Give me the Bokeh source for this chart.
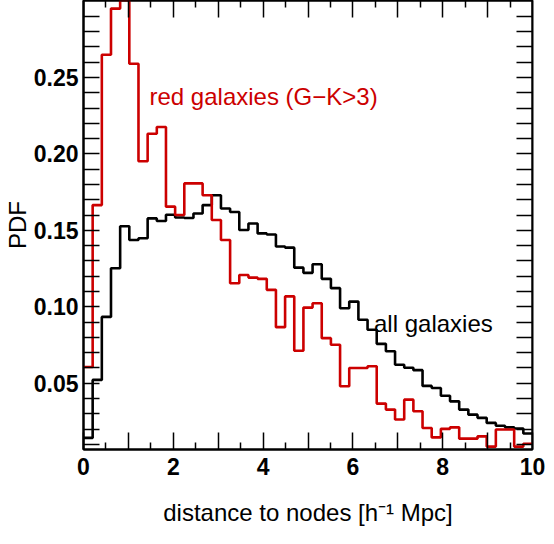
from bokeh.plotting import figure
from bokeh.models import FixedTicker, LinearAxis, Label, Range1d, PrintfTickFormatter
from bokeh.embed import file_html
from bokeh.resources import INLINE
import numpy as np

# histogram binning: 49 equal bins between 0 and 10 h^-1 Mpc
bin_lo = 0.0
bin_hi = 10.0
n_bins = 49

# PDF of all galaxies (black)
all_pdf = [0.0143, 0.0522, 0.0934, 0.1252, 0.1527, 0.1437, 0.1448, 0.1578, 0.1561, 0.1602,
           0.1584, 0.1581, 0.1610, 0.1665, 0.1730, 0.1643, 0.1620, 0.1502, 0.1545, 0.1480,
           0.1473, 0.1394, 0.1387, 0.1256, 0.1222, 0.1278, 0.1183, 0.1122, 0.0991, 0.1034,
           0.0915, 0.0850, 0.0758, 0.0709, 0.0621, 0.0602, 0.0586, 0.0483, 0.0469, 0.0418,
           0.0382, 0.0328, 0.0295, 0.0274, 0.0241, 0.0222, 0.0212, 0.0204, 0.0172]

# PDF of red galaxies (G-K>3)
red_pdf = [0.0606, 0.1665, 0.2648, 0.2950, 0.3005, 0.2589, 0.1952, 0.2132, 0.2176, 0.1655,
           0.1600, 0.1807, 0.1807, 0.1730, 0.1568, 0.1437, 0.1154, 0.1208, 0.1191, 0.1183,
           0.1111, 0.0867, 0.1068, 0.0713, 0.0995, 0.1023, 0.0795, 0.0752, 0.0481, 0.0600,
           0.0600, 0.0611, 0.0367, 0.0328, 0.0263, 0.0393, 0.0317, 0.0208, 0.0146, 0.0202,
           0.0212, 0.0138, 0.0138, 0.0153, 0.0086, 0.0198, 0.0198, 0.0086, 0.0105]

x_major = [0, 1, 2, 3, 4, 5, 6, 7, 8, 9, 10]
x_minor = [0.5, 1.5, 2.5, 3.5, 4.5, 5.5, 6.5, 7.5, 8.5, 9.5]
x_hidden = {1: "", 3: "", 5: "", 7: "", 9: ""}
y_major = [0.05, 0.10, 0.15, 0.20, 0.25]
y_minor = [round(0.01 * k, 2) for k in range(1, 31) if k % 5 != 0]

x_title = "distance to nodes [h\u207b\u00b9 Mpc]"
y_title = "PDF"
red_label = "red galaxies (G\u2212K>3)"
all_label = "all galaxies"

RED = "#cc0000"
FONT = "Liberation Sans"
X_LO, X_HI = 0.0, 10.0
Y_LO, Y_HI = 0.0067, 0.3003

edges = np.linspace(bin_lo, bin_hi, n_bins + 1)

p = figure(width=546, height=528, x_range=Range1d(X_LO, X_HI), y_range=Range1d(Y_LO, Y_HI),
           output_backend="svg", toolbar_location=None,
           min_border_left=78, min_border_right=14, min_border_top=0, min_border_bottom=78)
p.grid.visible = False
p.outline_line_color = "black"
p.outline_line_width = 2
p.background_fill_color = "white"
p.border_fill_color = "white"

p.step(edges, all_pdf + [all_pdf[-1]], mode="after", line_color="black", line_width=2.6)
p.step(edges, red_pdf + [red_pdf[-1]], mode="after", line_color=RED, line_width=2.6)


def style_x(ax, labels=True):
    ax.ticker = FixedTicker(ticks=x_major, minor_ticks=x_minor)
    ax.major_tick_in = 17
    ax.major_tick_out = 0
    ax.minor_tick_in = 7
    ax.minor_tick_out = 0
    ax.major_tick_line_width = 1.5
    ax.minor_tick_line_width = 1.5
    ax.axis_line_width = 2
    if labels:
        ax.major_label_overrides = x_hidden
        ax.major_label_text_font = FONT
        ax.major_label_text_font_style = "bold"
        ax.major_label_text_font_size = "23px"
        ax.major_label_text_color = "black"
        ax.major_label_standoff = 8
    else:
        ax.major_label_text_color = None
        ax.major_label_text_font_size = "0px"
        ax.major_label_standoff = 0


def style_y(ax, labels=True):
    ax.ticker = FixedTicker(ticks=y_major, minor_ticks=y_minor)
    ax.major_tick_in = 16
    ax.major_tick_out = 0
    ax.minor_tick_in = 16
    ax.minor_tick_out = 0
    ax.major_tick_line_width = 1.5
    ax.minor_tick_line_width = 1.5
    ax.axis_line_width = 2
    if labels:
        ax.formatter = PrintfTickFormatter(format="%.2f")
        ax.major_label_text_font = FONT
        ax.major_label_text_font_style = "bold"
        ax.major_label_text_font_size = "23px"
        ax.major_label_text_color = "black"
        ax.major_label_standoff = 5
    else:
        ax.major_label_text_color = None
        ax.major_label_text_font_size = "0px"
        ax.major_label_standoff = 0


style_x(p.xaxis[0])
style_y(p.yaxis[0])
p.xaxis[0].axis_label = x_title
p.xaxis[0].axis_label_text_font = FONT
p.xaxis[0].axis_label_text_font_style = "normal"
p.xaxis[0].axis_label_text_font_size = "24px"
p.xaxis[0].axis_label_text_color = "black"
p.xaxis[0].axis_label_standoff = 21
p.yaxis[0].axis_label = y_title
p.yaxis[0].axis_label_text_font = FONT
p.yaxis[0].axis_label_text_font_style = "normal"
p.yaxis[0].axis_label_text_font_size = "24px"
p.yaxis[0].axis_label_text_color = "black"
p.yaxis[0].axis_label_standoff = 0

# mirrored tick marks on the top and right frame edges
top_ax = LinearAxis(fixed_location=Y_HI)
style_x(top_ax, labels=False)
p.add_layout(top_ax, "above")
right_ax = LinearAxis(fixed_location=X_HI)
style_y(right_ax, labels=False)
p.add_layout(right_ax, "right")

p.add_layout(Label(x=1.47, y=0.2372, text=red_label, text_color=RED, text_font=FONT,
                   text_font_size="24px", text_baseline="alphabetic", text_align="left"))
p.add_layout(Label(x=6.47, y=0.0893, text=all_label, text_color="black", text_font=FONT,
                   text_font_size="24px", text_baseline="alphabetic", text_align="left"))

open("out.html", "w").write(file_html(p, INLINE))
